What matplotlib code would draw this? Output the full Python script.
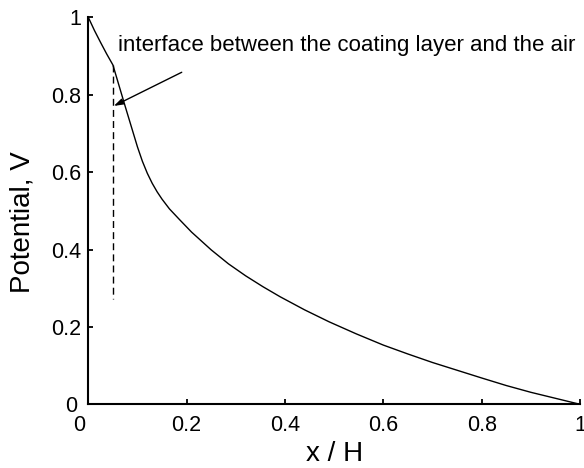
import matplotlib
matplotlib.use("Agg")
import matplotlib.pyplot as plt
import matplotlib.transforms as mtransforms

plt.rcParams["font.family"] = ["Liberation Sans", "DejaVu Sans"]
plt.rcParams["lines.scale_dashes"] = False

# Potential profile across the gap (normalised distance x/H)
x_pos = [0.0, 0.0125, 0.025, 0.0375, 0.05, 0.075, 0.1, 0.11, 0.12, 0.13,
         0.14, 0.15, 0.165, 0.185, 0.21, 0.25, 0.285, 0.32, 0.355, 0.39,
         0.44, 0.49, 0.545, 0.6, 0.65, 0.7, 0.75, 0.8, 0.85, 0.9, 0.95, 1.0]
potential = [1.0, 0.966, 0.935, 0.905, 0.877, 0.770, 0.665, 0.628, 0.597, 0.571,
             0.549, 0.530, 0.505, 0.478, 0.445, 0.399, 0.363, 0.332, 0.304, 0.278,
             0.244, 0.213, 0.182, 0.153, 0.130, 0.108, 0.088, 0.068, 0.0485, 0.031, 0.0155, 0.0]

# Coating/air interface marker
interface_x = 0.05
interface_top = 0.877
interface_bottom = 0.272

annotation_text = "interface between the coating layer and the air"
arrow_tip = (0.052, 0.771)
arrow_tail = (0.190, 0.858)
text_pos = (0.061, 0.928)

x_ticks = [0, 0.2, 0.4, 0.6, 0.8, 1]
x_tick_labels = ["0", "0.2", "0.4", "0.6", "0.8", "1"]
y_ticks = [0, 0.2, 0.4, 0.6, 0.8, 1]
y_tick_labels = ["0", "0.2", "0.4", "0.6", "0.8", "1"]

fig = plt.figure(figsize=(5.84, 4.68), dpi=100)
ax = fig.add_axes([0.1512, 0.1361, 0.8420, 0.8269])

ax.plot(x_pos, potential, color="black", lw=1.0, clip_on=False, zorder=3)
ax.plot([interface_x, interface_x], [interface_top, interface_bottom],
        color="black", lw=1.0, dashes=(5, 3), clip_on=False)

ax.annotate("", xy=arrow_tip, xytext=arrow_tail,
            arrowprops=dict(arrowstyle="-|>,head_length=0.55,head_width=0.18",
                            color="black", lw=1.0, shrinkA=0, shrinkB=0))
ax.text(text_pos[0], text_pos[1], annotation_text, fontsize=16,
        ha="left", va="center", color="black")

ax.set_xlim(0, 1)
ax.set_ylim(0, 1)
ax.set_xticks(x_ticks)
ax.set_xticklabels(x_tick_labels)
ax.set_yticks(y_ticks)
ax.set_yticklabels(y_tick_labels)

for side in ("top", "right"):
    ax.spines[side].set_visible(False)
for side in ("left", "bottom"):
    ax.spines[side].set_linewidth(1.5)

ax.tick_params(direction="in", length=3.5, width=1.3, labelsize=15.5)
ax.tick_params(axis="x", pad=8)
ax.tick_params(axis="y", pad=5)

# nudge the two origin labels apart
first_x = ax.get_xticklabels()[0]
first_x.set_transform(first_x.get_transform() +
                      mtransforms.ScaledTranslation(-9 / 100, 0, fig.dpi_scale_trans))
first_y = ax.get_yticklabels()[0]
first_y.set_transform(first_y.get_transform() +
                      mtransforms.ScaledTranslation(-4 / 100, 0, fig.dpi_scale_trans))

ax.set_xlabel("x / H", fontsize=20, labelpad=3.5)
ax.set_ylabel("Potential, V", fontsize=20)
ax.yaxis.set_label_coords(-0.107, 0.471)

fig.savefig("out.png", dpi=100)
